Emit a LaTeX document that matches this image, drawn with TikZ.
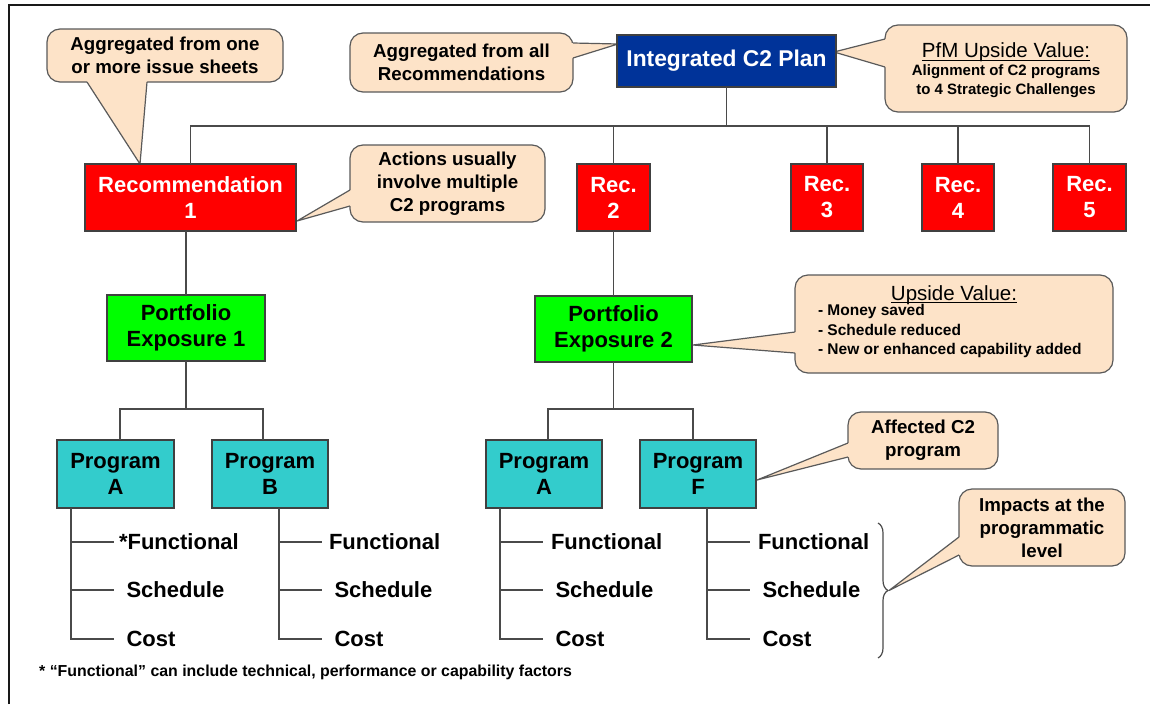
\documentclass[tikz,border=0pt]{standalone}
\usepackage{fontspec}
\setmainfont{Liberation Sans}
\usetikzlibrary{calc,backgrounds,decorations.pathreplacing}

\definecolor{planblue}{HTML}{003399}
\definecolor{recred}{HTML}{FF0000}
\definecolor{pegreen}{HTML}{00FF00}
\definecolor{progteal}{HTML}{33CCCC}
\definecolor{notefill}{HTML}{FDE3C8}
\definecolor{noteline}{HTML}{5A5A5A}
\definecolor{boxline}{HTML}{404040}
\definecolor{wiregray}{HTML}{4A4A4A}

\newcommand{\fsz}[2]{\fontsize{#1}{#2}\selectfont}

% callout pointers: #1 callout node, #2/#3 offsets of the pointer base, #4 tip
\newcommand{\tailleft}[4]{%
  \fill[notefill] ($(#1.north west)+(4,#2)$) -- ($(#1.north west)+(0,#2)$) -- (#4)
    -- ($(#1.north west)+(0,#3)$) -- ($(#1.north west)+(4,#3)$) -- cycle;
  \draw[tailline] ($(#1.north west)+(0,#2)$) -- (#4) -- ($(#1.north west)+(0,#3)$);}
\newcommand{\tailright}[4]{%
  \fill[notefill] ($(#1.north east)+(-4,#2)$) -- ($(#1.north east)+(0,#2)$) -- (#4)
    -- ($(#1.north east)+(0,#3)$) -- ($(#1.north east)+(-4,#3)$) -- cycle;
  \draw[tailline] ($(#1.north east)+(0,#2)$) -- (#4) -- ($(#1.north east)+(0,#3)$);}
\newcommand{\tailbottom}[4]{%
  \fill[notefill] ($(#1.south west)+(#2,-4)$) -- ($(#1.south west)+(#2,0)$) -- (#4)
    -- ($(#1.south west)+(#3,0)$) -- ($(#1.south west)+(#3,-4)$) -- cycle;
  \draw[tailline] ($(#1.south west)+(#2,0)$) -- (#4) -- ($(#1.south west)+(#3,0)$);}

\begin{document}
\begin{tikzpicture}[x=1pt,y=-1pt,
  box/.style={draw=boxline, line width=1.4pt, inner sep=0pt, outer sep=0pt, align=center,
    font=\bfseries\fsz{22}{26}},
  planbox/.style={box, fill=planblue, text=white, font=\bfseries\fsz{22.8}{28},
    minimum width=219pt, minimum height=52pt},
  recbox/.style={box, fill=recred, text=white, minimum height=67pt},
  pebox/.style={box, fill=pegreen, minimum width=158pt, minimum height=66pt},
  progbox/.style={box, fill=progteal, minimum width=117pt, minimum height=68pt},
  wire/.style={draw=wiregray, line width=1.4pt},
  note/.style={draw=noteline, fill=notefill, line width=1.2pt, rounded corners=13pt,
    inner sep=0pt, outer sep=0pt, align=center, font=\bfseries\fsz{18.7}{23}},
  tailline/.style={draw=noteline, line width=1.2pt, line join=miter},
  notetext/.style={inner sep=0pt, outer sep=0pt},
  leaf/.style={anchor=west, inner ysep=0pt, inner xsep=12.5pt, outer sep=0pt,
    font=\bfseries\fsz{22}{26}},
]
\useasboundingbox (0,0) rectangle (1150,704);

% page frame
\draw[line width=2.4pt, draw=black!90] (9,704) -- (9,5) -- (1150,5);

% ---- hierarchy boxes
\node[planbox] (plan) at (726.5,61) {Integrated C2 Plan};

\node[recbox, minimum width=211pt] (rec1) at (190.5,197.5) {Recommendation\\1};
\node[recbox, minimum width=73pt] (rec2) at (613.5,197.5) {Rec.\\2};
\node[recbox, minimum width=72pt] (rec3) at (827,197.5) {Rec.\\3};
\node[recbox, minimum width=72pt] (rec4) at (958,197.5) {Rec.\\4};
\node[recbox, minimum width=73pt] (rec5) at (1089.5,197.5) {Rec.\\5};

\node[pebox] (pe1) at (186,328) {Portfolio\\Exposure 1};
\node[pebox, minimum width=157pt] (pe2) at (613.5,329) {Portfolio\\Exposure 2};

\node[progbox] (pa1) at (115.5,474) {Program\\A};
\node[progbox, minimum width=116pt] (pb) at (270,474) {Program\\B};
\node[progbox, minimum width=116pt] (pa2) at (544,474) {Program\\A};
\node[progbox, minimum width=116pt] (pf) at (698,474) {Program\\F};

% ---- connectors between levels
\coordinate (hub) at ($(plan.south)+(0,39)$);
\draw[wire] (plan.south) -- (hub);
\draw[wire] (rec1.north) |- (hub) -| (rec5.north);
\foreach \r in {rec2,rec3,rec4} \draw[wire] (\r.north) -- (\r.north |- hub);

\draw[wire] (rec1.south -| pe1.north) -- (pe1.north);
\draw[wire] (rec2.south) -- (pe2.north);

\coordinate (hub1) at ($(pe1.south)+(0,48)$);
\draw[wire] (pe1.south) -- (hub1);
\draw[wire] ($(pa1.north)+(4.5,0)$) |- (hub1) -| ($(pb.north)+(-7,0)$);

\coordinate (hub2) at ($(pe2.south)+(0,47)$);
\draw[wire] (pe2.south) -- (hub2);
\draw[wire] ($(pa2.north)+(4,0)$) |- (hub2) -| ($(pf.north)+(-5,0)$);

% ---- impact lists under each program
\coordinate (va1) at ($(pa1.south west)+(14,0)$);
\node[leaf, inner xsep=5pt] (a1f) at ($(va1)+(43,34)$) {*Functional};
\node[leaf] (a1s) at ($(va1)+(43,82)$) {Schedule};
\node[leaf] (a1c) at ($(va1)+(43,131)$) {Cost};
\draw[wire] (va1) |- (a1c.west);
\draw[wire] (va1 |- a1f.west) -- (a1f.west);
\draw[wire] (va1 |- a1s.west) -- (a1s.west);

\coordinate (vb) at ($(pb.south)+(9,0)$);
\node[leaf, inner xsep=7pt] (bf) at ($(vb)+(43,34)$) {Functional};
\node[leaf] (bs) at ($(vb)+(43,82)$) {Schedule};
\node[leaf] (bc) at ($(vb)+(43,131)$) {Cost};
\draw[wire] (vb) |- (bc.west);
\draw[wire] (vb |- bf.west) -- (bf.west);
\draw[wire] (vb |- bs.west) -- (bs.west);

\coordinate (va2) at ($(pa2.south west)+(14,0)$);
\node[leaf, inner xsep=8pt] (a2f) at ($(va2)+(43,34)$) {Functional};
\node[leaf] (a2s) at ($(va2)+(43,82)$) {Schedule};
\node[leaf] (a2c) at ($(va2)+(43,131)$) {Cost};
\draw[wire] (va2) |- (a2c.west);
\draw[wire] (va2 |- a2f.west) -- (a2f.west);
\draw[wire] (va2 |- a2s.west) -- (a2s.west);

\coordinate (vf) at ($(pf.south)+(9,0)$);
\node[leaf, inner xsep=8pt] (ff) at ($(vf)+(43,34)$) {Functional};
\node[leaf] (fs) at ($(vf)+(43,82)$) {Schedule};
\node[leaf] (fc) at ($(vf)+(43,131)$) {Cost};
\draw[wire] (vf) |- (fc.west);
\draw[wire] (vf |- ff.west) -- (ff.west);
\draw[wire] (vf |- fs.west) -- (fs.west);

% brace grouping the programmatic impacts
\coordinate (brtop) at (878,523);
\coordinate (brbot) at (878,658);
\coordinate (brtip) at (889,590.5);
\draw[draw=wiregray, line width=1.2pt, decorate, decoration={brace, amplitude=10pt}]
  (brtop) -- (brbot);

% footnote
\node[anchor=west, inner sep=0pt, font=\bfseries\fsz{15.9}{18}] (foot) at (39,672)
  {* “Functional” can include technical, performance or capability factors};

% ---- callouts, kept behind the boxes
\begin{scope}[on background layer]
\fill[white] (0,0) rectangle (1150,704);

\node[note, minimum width=236pt, minimum height=53pt] (c1) at (165,55.5)
  {Aggregated from one\\or more issue sheets};
\coordinate (t1) at ($(rec1.north west)+(55,0)$);
\tailbottom{c1}{40}{100}{t1}

\node[note, minimum width=223pt, minimum height=59pt] (c2) at (461.5,62.5)
  {Aggregated from all\\Recommendations};
\coordinate (t2) at ($(plan.north west)+(1,9)$);
\tailright{c2}{10}{25}{t2}

\node[note, minimum width=242pt, minimum height=87pt] (c3) at (1006,68.5) {};
\coordinate (t3) at ($(plan.north east)+(-2,17)$);
\tailleft{c3}{14}{42}{t3}

\node[note, minimum width=195pt, minimum height=77pt] (c4) at (447.5,183.5)
  {Actions usually\\involve multiple\\C2 programs};
\coordinate (t4) at ($(rec1.south east)+(1,-10)$);
\tailleft{c4}{45}{61}{t4}

\node[note, minimum width=318pt, minimum height=98pt] (c5) at (954,324) {};
\coordinate (t5) at ($(pe2.east)+(1,16)$);
\tailleft{c5}{57}{78}{t5}

\node[note, minimum width=150pt, minimum height=57pt] (c6) at (923,440.5)
  {Affected C2\\program};
\coordinate (t6) at ($(pf.east)+(1,6)$);
\tailleft{c6}{31}{45}{t6}

\node[note, minimum width=166pt, minimum height=77pt] (c7) at (1042,527.5)
  {Impacts at the\\programmatic\\level};
\tailleft{c7}{48}{66}{brtip}
\end{scope}

% callout contents with headings
\node[notetext, anchor=base, font=\fsz{20.5}{24}] (c3t) at ($(c3.north)+(0,32.5)$)
  {PfM Upside Value:};
\draw[line width=1.3pt] ($(c3t.base west)+(0,2.8)$) -- ($(c3t.base east)+(0,2.8)$);
\node[notetext, align=center, font=\bfseries\fsz{15}{19}] (c3b) at ($(c3.north)+(0,56)$)
  {Alignment of C2 programs\\to 4 Strategic Challenges};

\node[notetext, anchor=base, font=\fsz{20.5}{24}] (c5t) at ($(c5.north)+(0,25)$)
  {Upside Value:};
\draw[line width=1.3pt] ($(c5t.base west)+(0,2.8)$) -- ($(c5t.base east)+(0,2.8)$);
\node[notetext, anchor=north west, align=left, font=\bfseries\fsz{15.5}{19.5}] (c5b)
  at ($(c5.north west)+(23,29.5)$)
  {- Money saved\\- Schedule reduced\\- New or enhanced capability added};
\end{tikzpicture}
\end{document}
